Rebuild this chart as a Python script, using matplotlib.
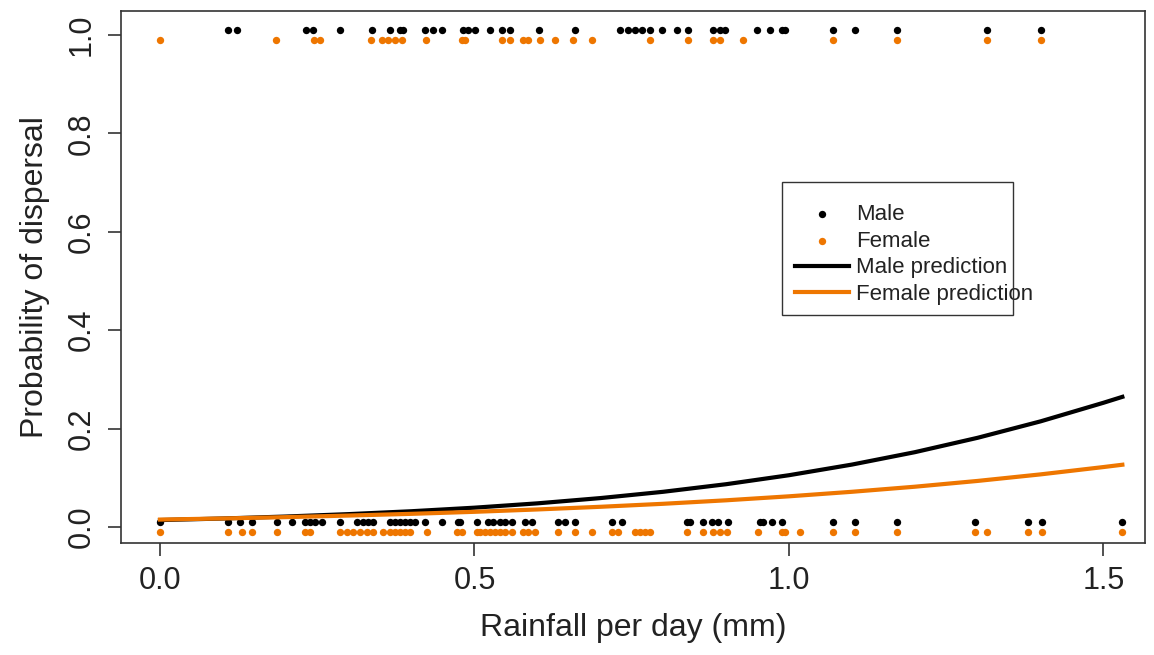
import matplotlib
matplotlib.use("Agg")
import matplotlib.pyplot as plt
from matplotlib.patches import Rectangle

# ---- data ----
male_dispersed = [0.108, 0.122, 0.232, 0.243, 0.286, 0.337, 0.366, 0.382, 0.386,
                  0.421, 0.434, 0.448, 0.482, 0.490, 0.501, 0.525, 0.544, 0.556,
                  0.603, 0.660, 0.731, 0.744, 0.755, 0.766, 0.779, 0.798, 0.822,
                  0.839, 0.879, 0.890, 0.898, 0.949, 0.970, 0.989, 0.994,
                  1.070, 1.105, 1.172, 1.315, 1.401]
female_dispersed = [0.0, 0.184, 0.245, 0.254, 0.335, 0.353, 0.362, 0.374, 0.385,
                    0.423, 0.480, 0.485, 0.544, 0.556, 0.577, 0.585, 0.604, 0.628,
                    0.657, 0.687, 0.779, 0.839, 0.879, 0.890, 0.927,
                    1.070, 1.172, 1.315, 1.401]
male_stayed = [0.0, 0.108, 0.127, 0.146, 0.186, 0.210, 0.231, 0.238, 0.246, 0.258,
               0.286, 0.313, 0.323, 0.331, 0.339, 0.366, 0.374, 0.382, 0.390,
               0.397, 0.405, 0.421, 0.448, 0.474, 0.477, 0.504, 0.521, 0.529,
               0.541, 0.548, 0.560, 0.580, 0.591, 0.633, 0.644, 0.660, 0.719,
               0.734, 0.838, 0.843, 0.863, 0.877, 0.887, 0.903, 0.954, 0.959,
               0.973, 0.989, 1.070, 1.105, 1.172, 1.296, 1.380, 1.402, 1.529]
female_stayed = [0.0, 0.108, 0.130, 0.146, 0.186, 0.231, 0.238, 0.286, 0.297,
                 0.307, 0.318, 0.329, 0.339, 0.355, 0.366, 0.374, 0.382, 0.390,
                 0.397, 0.424, 0.472, 0.480, 0.504, 0.509, 0.517, 0.525, 0.533,
                 0.541, 0.548, 0.560, 0.577, 0.585, 0.596, 0.633, 0.660, 0.687,
                 0.719, 0.728, 0.755, 0.763, 0.771, 0.779, 0.838, 0.863, 0.879,
                 0.890, 0.901, 0.951, 0.989, 0.994, 1.017, 1.070, 1.105, 1.172,
                 1.296, 1.315, 1.380, 1.402, 1.529]

# prediction curves
pred_x = [0.0, 0.1, 0.2, 0.3, 0.4, 0.5, 0.6, 0.7, 0.8, 0.9, 1.0, 1.1, 1.2, 1.3,
          1.4, 1.5, 1.53]
male_pred = [0.0141, 0.0173, 0.0213, 0.0262, 0.0321, 0.0393, 0.0481, 0.0588,
             0.0716, 0.0870, 0.1053, 0.1269, 0.1521, 0.1814, 0.2148, 0.2526, 0.2646]
female_pred = [0.0151, 0.0174, 0.0201, 0.0233, 0.0268, 0.0309, 0.0357, 0.0411,
               0.0472, 0.0543, 0.0624, 0.0716, 0.0819, 0.0937, 0.1070, 0.1219, 0.1266]

# vertical offsets used to separate the sexes
male_off = 0.01
female_off = -0.01

x_ticks = [0.0, 0.5, 1.0, 1.5]
y_ticks = [0.0, 0.2, 0.4, 0.6, 0.8, 1.0]

ORANGE = "#EE7600"
plt.rcParams["font.family"] = ["Liberation Sans", "DejaVu Sans"]

W, H = 1154, 655
fig = plt.figure(figsize=(W / 100, H / 100), dpi=100)
ax = fig.add_axes([121 / W, 1 - 543 / H, (1145 - 121) / W, (543 - 11) / H])

ms = 28
ax.scatter(male_dispersed, [1 + male_off] * len(male_dispersed), s=ms, color="black",
           linewidths=0, zorder=3, label="Male")
ax.scatter(male_stayed, [0 + male_off] * len(male_stayed), s=ms, color="black",
           linewidths=0, zorder=3)
ax.scatter(female_dispersed, [1 + female_off] * len(female_dispersed), s=ms,
           color=ORANGE, linewidths=0, zorder=3, label="Female")
ax.scatter(female_stayed, [0 + female_off] * len(female_stayed), s=ms, color=ORANGE,
           linewidths=0, zorder=3)
ax.plot(pred_x, male_pred, color="black", lw=3, zorder=4, label="Male prediction")
ax.plot(pred_x, female_pred, color=ORANGE, lw=3, zorder=4, label="Female prediction")

ax.set_xlim(-0.062, 1.566)
ax.set_ylim(-0.0325, 1.049)
ax.set_xticks(x_ticks)
ax.set_xticklabels([f"{v:.1f}" for v in x_ticks])
ax.set_yticks(y_ticks)
ax.set_yticklabels([f"{v:.1f}" for v in y_ticks], rotation=90, va="center")

for s in ax.spines.values():
    s.set_color("#333333")
    s.set_linewidth(1.2)
ax.tick_params(axis="both", direction="out", length=9.5, width=1.2, color="#333333",
               labelsize=22, labelcolor="#222222")
ax.tick_params(axis="x", pad=7)
ax.tick_params(axis="y", pad=8)

ax.set_xlabel("Rainfall per day (mm)", fontsize=23, color="#222222", labelpad=12)
ax.set_ylabel("Probability of dispersal", fontsize=23, color="#222222", labelpad=12)

leg = ax.legend(loc="upper left", bbox_to_anchor=((782 - 121) / 1024, 1 - (191 - 11) / 532),
                fontsize=16, frameon=False,
                handlelength=2.4, handletextpad=0.35, labelspacing=0.25,
                borderpad=0.6, borderaxespad=0, markerscale=1.0)
for t in leg.get_texts():
    t.set_color("#222222")

# legend box as in the reference (text slightly overflows on the right)
fig.add_artist(Rectangle((782 / W, 1 - 315 / H), (1013 - 782) / W, (315 - 182) / H,
                         transform=fig.transFigure, fill=False, ec="#333333", lw=1.0,
                         zorder=1))

fig.savefig("out.png", dpi=100)
